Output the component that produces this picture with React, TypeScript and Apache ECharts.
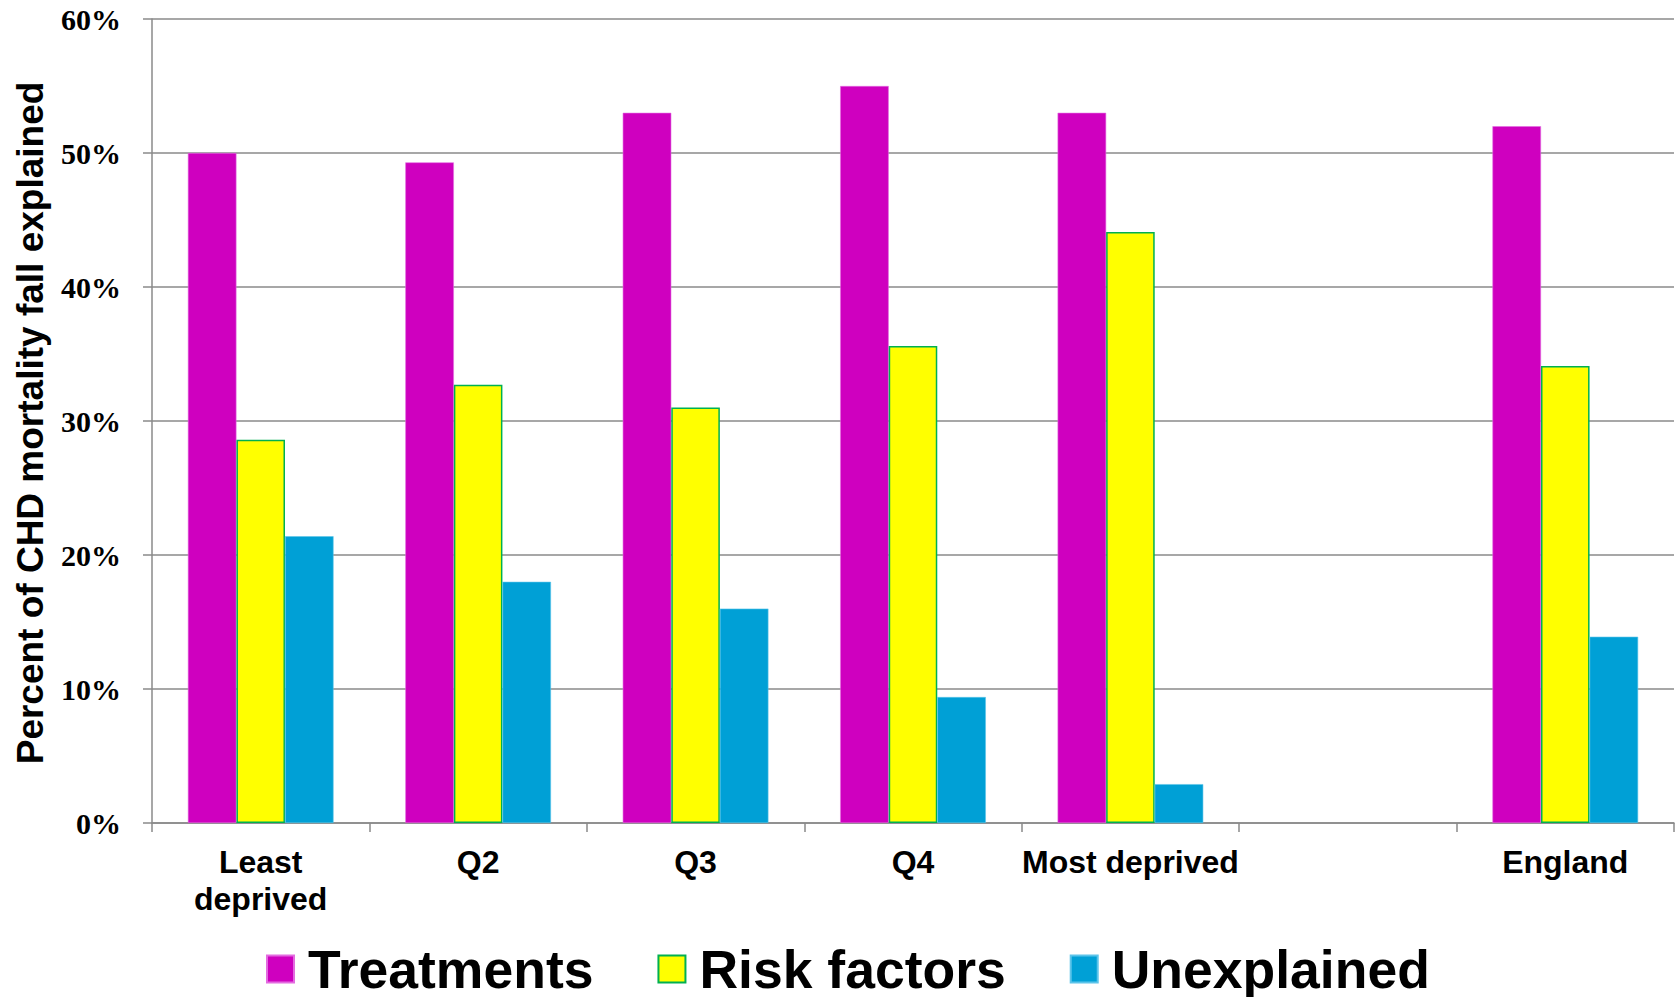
import React, { useEffect, useRef } from "react";
import * as echarts from "echarts";

// Categories along the x axis (an empty slot separates the quintiles from England)
const categories = ["Least\ndeprived", "Q2", "Q3", "Q4", "Most deprived", "", "England"];

// Percent of CHD mortality fall explained, by deprivation quintile
const treatments = [50, 49.3, 53, 55, 53, null, 52];
const riskFactors = [28.6, 32.7, 31, 35.6, 44.1, null, 34.1];
const unexplained = [21.4, 18, 16, 9.4, 2.9, null, 13.9];

const seriesNames = ["Treatments", "Risk factors", "Unexplained"];
const yTicks = { min: 0, max: 60, interval: 10 };

const SANS = "'Liberation Sans', Arial, sans-serif";
const SERIF = "'Liberation Serif', 'Times New Roman', serif";
const GRID_GRAY = "#8a8a8a";

export default function App() {
  const ref = useRef<HTMLDivElement>(null);

  useEffect(() => {
    if (!ref.current) return;
    const chart = echarts.init(ref.current, null, { renderer: "svg" });

    chart.setOption({
      animation: false,
      backgroundColor: "#ffffff",
      grid: { left: 152, right: 5, top: 19, bottom: 174, containLabel: false },
      legend: {
        data: seriesNames,
        icon: "rect",
        left: 266,
        top: 942,
        padding: 0,
        itemWidth: 27,
        itemHeight: 27,
        itemGap: 64,
        textStyle: {
          fontFamily: SANS,
          fontWeight: "bold",
          fontSize: 53.5,
          lineHeight: 52,
          color: "#000",
          padding: [0, 0, 0, 9],
        },
      },
      graphic: [
        {
          type: "text",
          x: 30,
          y: 423,
          rotation: Math.PI / 2,
          style: {
            text: "Percent of CHD mortality fall explained",
            fontFamily: SANS,
            fontWeight: "bold",
            fontSize: 37,
            fill: "#000",
            align: "center",
            verticalAlign: "middle",
          },
        },
      ],
      xAxis: {
        type: "category",
        data: categories,
        boundaryGap: true,
        axisLine: { show: true, lineStyle: { color: GRID_GRAY, width: 1.5 } },
        axisTick: { show: true, length: 9, alignWithLabel: false, lineStyle: { color: GRID_GRAY, width: 1.5 } },
        axisLabel: {
          interval: 0,
          margin: 20,
          fontFamily: SANS,
          fontWeight: "bold",
          fontSize: 32,
          lineHeight: 37,
          color: "#000",
        },
        splitLine: { show: false },
      },
      yAxis: {
        type: "value",
        min: yTicks.min,
        max: yTicks.max,
        interval: yTicks.interval,
        axisLine: { show: true, lineStyle: { color: GRID_GRAY, width: 1.5 } },
        axisTick: { show: true, length: 9, lineStyle: { color: GRID_GRAY, width: 1.5 } },
        axisLabel: {
          formatter: "{value}%",
          margin: 31,
          fontFamily: SERIF,
          fontWeight: "bold",
          fontSize: 30,
          color: "#000",
        },
        splitLine: { show: true, lineStyle: { color: GRID_GRAY, width: 1.5 } },
      },
      series: [
        {
          name: seriesNames[0],
          type: "bar",
          data: treatments,
          barGap: "0%",
          barCategoryGap: "33%",
          itemStyle: { color: "#cf00bf", borderColor: "#e36be0", borderWidth: 0.6 },
        },
        {
          name: seriesNames[1],
          type: "bar",
          data: riskFactors,
          barGap: "0%",
          barCategoryGap: "33%",
          itemStyle: { color: "#ffff00", borderColor: "#00b050", borderWidth: 1.5 },
        },
        {
          name: seriesNames[2],
          type: "bar",
          data: unexplained,
          barGap: "0%",
          barCategoryGap: "33%",
          itemStyle: { color: "#00a0d6", borderColor: "#5cc4ea", borderWidth: 0.6 },
        },
      ],
    });

    return () => chart.dispose();
  }, []);

  return (
    <div
      ref={ref}
      style={{ position: "fixed", left: 0, top: 0, width: 1679, height: 997, background: "#fff" }}
    />
  );
}
